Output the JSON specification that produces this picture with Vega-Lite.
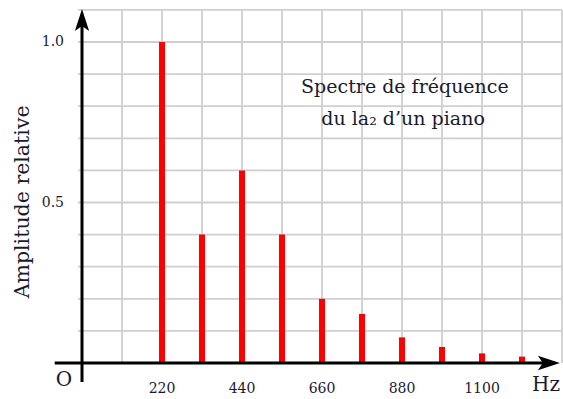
{
  "$schema": "https://vega.github.io/schema/vega-lite/v6.json",
  "width": 563,
  "height": 399,
  "padding": 0,
  "autosize": {"type": "none"},
  "config": {"view": {"stroke": null}},
  "datasets": {
    "vgrid": [{"gx": 110, "lo": 0, "hi": 1.1}, {"gx": 220, "lo": 0, "hi": 1.1}, {"gx": 330, "lo": 0, "hi": 1.1}, {"gx": 440, "lo": 0, "hi": 1.1}, {"gx": 550, "lo": 0, "hi": 1.1}, {"gx": 660, "lo": 0, "hi": 1.1}, {"gx": 770, "lo": 0, "hi": 1.1}, {"gx": 880, "lo": 0, "hi": 1.1}, {"gx": 990, "lo": 0, "hi": 1.1}, {"gx": 1100, "lo": 0, "hi": 1.1}, {"gx": 1210, "lo": 0, "hi": 1.1}, {"gx": 1320, "lo": 0, "hi": 1.1}],
    "hgrid": [{"gy": 0.1, "lo": -11, "hi": 1320}, {"gy": 0.2, "lo": -11, "hi": 1320}, {"gy": 0.3, "lo": -11, "hi": 1320}, {"gy": 0.4, "lo": -11, "hi": 1320}, {"gy": 0.5, "lo": -11, "hi": 1320}, {"gy": 0.6, "lo": -11, "hi": 1320}, {"gy": 0.7, "lo": -11, "hi": 1320}, {"gy": 0.8, "lo": -11, "hi": 1320}, {"gy": 0.9, "lo": -11, "hi": 1320}, {"gy": 1.0, "lo": -11, "hi": 1320}, {"gy": 1.1, "lo": -11, "hi": 1320}],
    "spectrum": [
      {"freq": 220, "base": 0, "amp": 1.0},
      {"freq": 330, "base": 0, "amp": 0.4},
      {"freq": 440, "base": 0, "amp": 0.6},
      {"freq": 550, "base": 0, "amp": 0.4},
      {"freq": 660, "base": 0, "amp": 0.2},
      {"freq": 770, "base": 0, "amp": 0.153},
      {"freq": 880, "base": 0, "amp": 0.08},
      {"freq": 990, "base": 0, "amp": 0.05},
      {"freq": 1100, "base": 0, "amp": 0.03},
      {"freq": 1210, "base": 0, "amp": 0.02}
    ],
    "axes": [
      {"x": -75, "x2": 1284, "y": 0, "y2": 0},
      {"x": 0, "x2": 0, "y": -0.059, "y2": 1.0685}
    ],
    "arrows": [
      {"x": 1284, "y": 0, "dir": "right"},
      {"x": 0, "y": 1.0685, "dir": "up"}
    ],
    "labels": [
      {"t": "220", "x": 220, "y": -0.081},
      {"t": "440", "x": 440, "y": -0.081},
      {"t": "660", "x": 660, "y": -0.081},
      {"t": "880", "x": 880, "y": -0.081},
      {"t": "1100", "x": 1100, "y": -0.081}
    ],
    "ylabels": [
      {"t": "1.0", "x": -49.5, "y": 1.0},
      {"t": "0.5", "x": -49.5, "y": 0.5}
    ],
    "big": [
      {"t": "O", "x": -49.5, "y": -0.053},
      {"t": "Hz", "x": 1276, "y": -0.067}
    ],
    "title": [
      {"t": "Spectre de fréquence", "x": 888, "y": 0.86},
      {"t": "du la₂ d’un piano", "x": 883, "y": 0.76}
    ],
    "ytitle": [
      {"t": "Amplitude relative", "x": -163, "y": 0.502}
    ]
  },
  "layer": [
    {
      "data": {"name": "vgrid"},
      "mark": {"type": "rule", "color": "#cfcfcf", "strokeWidth": 1.8},
      "encoding": {
        "x": {"field": "gx", "type": "quantitative", "scale": {"domain": [-225.5, 1322.75], "nice": false, "zero": false}, "axis": null},
        "y": {"field": "lo", "type": "quantitative", "scale": {"domain": [-0.1121, 1.1308], "nice": false, "zero": false}, "axis": null},
        "y2": {"field": "hi"}
      }
    },
    {
      "data": {"name": "hgrid"},
      "mark": {"type": "rule", "color": "#cfcfcf", "strokeWidth": 1.8},
      "encoding": {
        "y": {"field": "gy", "type": "quantitative"},
        "x": {"field": "lo", "type": "quantitative"},
        "x2": {"field": "hi"}
      }
    },
    {
      "data": {"name": "spectrum"},
      "mark": {"type": "rule", "color": "#ff0000", "strokeWidth": 6, "strokeCap": "butt"},
      "encoding": {
        "x": {"field": "freq", "type": "quantitative"},
        "y": {"field": "base", "type": "quantitative"},
        "y2": {"field": "amp"}
      }
    },
    {
      "data": {"name": "axes"},
      "mark": {"type": "rule", "color": "#000000", "strokeWidth": 3, "strokeCap": "butt"},
      "encoding": {
        "x": {"field": "x", "type": "quantitative"},
        "x2": {"field": "x2"},
        "y": {"field": "y", "type": "quantitative"},
        "y2": {"field": "y2"}
      }
    },
    {
      "data": {"name": "arrows"},
      "transform": [{"filter": "datum.dir === 'right'"}],
      "mark": {"type": "point", "filled": true, "color": "#000000", "opacity": 1, "size": 484, "shape": "M1,0 L-1,-0.65 L-0.55,0 L-1,0.65 Z"},
      "encoding": {
        "x": {"field": "x", "type": "quantitative"},
        "y": {"field": "y", "type": "quantitative"}
      }
    },
    {
      "data": {"name": "arrows"},
      "transform": [{"filter": "datum.dir === 'up'"}],
      "mark": {"type": "point", "filled": true, "color": "#000000", "opacity": 1, "size": 484, "shape": "M0,-1 L-0.65,1 L0,0.55 L0.65,1 Z"},
      "encoding": {
        "x": {"field": "x", "type": "quantitative"},
        "y": {"field": "y", "type": "quantitative"}
      }
    },
    {
      "data": {"name": "labels"},
      "mark": {"type": "text", "font": "DejaVu Serif", "fontSize": 14, "color": "#1a1a2e", "align": "center", "baseline": "middle"},
      "encoding": {
        "x": {"field": "x", "type": "quantitative"},
        "y": {"field": "y", "type": "quantitative"},
        "text": {"field": "t"}
      }
    },
    {
      "data": {"name": "ylabels"},
      "mark": {"type": "text", "font": "DejaVu Serif", "fontSize": 14, "color": "#1a1a2e", "align": "right", "baseline": "middle"},
      "encoding": {
        "x": {"field": "x", "type": "quantitative"},
        "y": {"field": "y", "type": "quantitative"},
        "text": {"field": "t"}
      }
    },
    {
      "data": {"name": "big"},
      "mark": {"type": "text", "font": "DejaVu Serif", "fontSize": 20, "color": "#1a1a2e", "align": "center", "baseline": "middle"},
      "encoding": {
        "x": {"field": "x", "type": "quantitative"},
        "y": {"field": "y", "type": "quantitative"},
        "text": {"field": "t"}
      }
    },
    {
      "data": {"name": "title"},
      "mark": {"type": "text", "font": "DejaVu Serif", "fontSize": 19, "color": "#1a1a2e", "align": "center", "baseline": "middle"},
      "encoding": {
        "x": {"field": "x", "type": "quantitative"},
        "y": {"field": "y", "type": "quantitative"},
        "text": {"field": "t"}
      }
    },
    {
      "data": {"name": "ytitle"},
      "mark": {"type": "text", "font": "DejaVu Serif", "fontSize": 20.5, "color": "#1a1a2e", "align": "center", "baseline": "middle", "angle": 270},
      "encoding": {
        "x": {"field": "x", "type": "quantitative"},
        "y": {"field": "y", "type": "quantitative"},
        "text": {"field": "t"}
      }
    }
  ]
}
